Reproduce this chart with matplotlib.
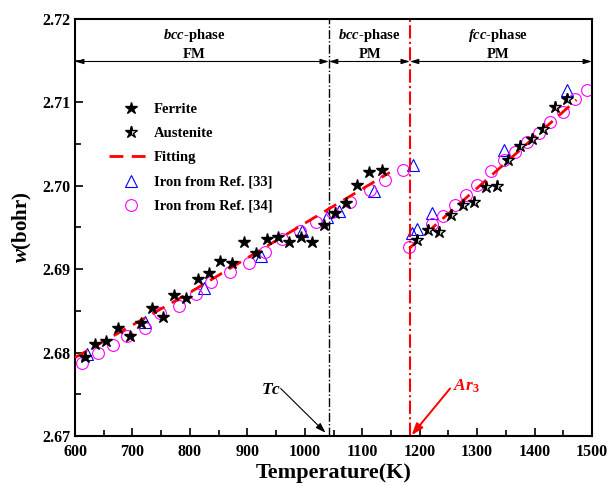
import matplotlib
matplotlib.use('Agg')
import matplotlib.pyplot as plt

plt.rcParams['font.family'] = 'Liberation Serif'
plt.rcParams['font.weight'] = 'bold'
plt.rcParams['mathtext.fontset'] = 'custom'
plt.rcParams['mathtext.rm'] = 'Liberation Serif:bold'
plt.rcParams['mathtext.it'] = 'Liberation Serif:italic:bold'

# bcc iron (ferrite)
ferrite_T = [617, 635, 654, 674, 696, 715, 734, 754, 772, 794, 814, 833, 852, 873,
             894, 915, 934, 953, 973, 993, 1013, 1034, 1053, 1072, 1091, 1111, 1134]
ferrite_w = [2.6795, 2.6810, 2.6814, 2.6830, 2.6820, 2.6835, 2.6853, 2.6843, 2.6869,
             2.6866, 2.6888, 2.6896, 2.6910, 2.6908, 2.6932, 2.6919, 2.6936, 2.6939,
             2.6932, 2.6939, 2.6933, 2.6953, 2.6967, 2.6979, 2.7001, 2.7017, 2.7019]
# fcc iron (austenite)
austenite_T = [1195, 1215, 1234, 1255, 1275, 1295, 1316, 1335, 1354, 1375, 1395, 1415, 1436, 1456]
austenite_w = [2.6935, 2.6947, 2.6944, 2.6965, 2.6977, 2.6981, 2.6999, 2.7000, 2.7031,
               2.7048, 2.7056, 2.7068, 2.7095, 2.7104]
# literature values
ref33_T = [621, 722, 824, 923, 996, 1038, 1060, 1120, 1189, 1186, 1196, 1221, 1347, 1456]
ref33_w = [2.6798, 2.6837, 2.6877, 2.6916, 2.6946, 2.6963, 2.6970, 2.6994, 2.7025,
           2.6943, 2.6948, 2.6967, 2.7043, 2.7115]
ref34_T = [612, 640, 666, 690, 721, 748, 781, 811, 837, 870, 902, 931, 961, 991, 1019,
           1047, 1079, 1113, 1139, 1171, 1181, 1221, 1240, 1262, 1281, 1300, 1325, 1347,
           1366, 1386, 1407, 1427, 1450, 1470, 1492]
ref34_w = [2.6787, 2.6799, 2.6809, 2.6820, 2.6830, 2.6847, 2.6856, 2.6870, 2.6885, 2.6897,
           2.6907, 2.6921, 2.6936, 2.6946, 2.6957, 2.6969, 2.6981, 2.6995, 2.7007, 2.7019,
           2.6926, 2.6954, 2.6964, 2.6977, 2.6989, 2.7001, 2.7018, 2.7031, 2.7040, 2.7052,
           2.7063, 2.7076, 2.7089, 2.7104, 2.7115]
# fitted curves
fit_bcc_T = [600, 800, 1000, 1148]
fit_bcc_w = [2.6794, 2.6872, 2.6955, 2.7016]
fit_fcc_T = [1182, 1473]
fit_fcc_w = [2.6925, 2.7103]

Tc = 1042
Ar3 = 1183
phases = [(600, Tc, 808, '$bcc$-phase', 'FM'),
          (Tc, Ar3, 1113, '$bcc$-phase', 'PM'),
          (Ar3, 1500, 1336, '$fcc$-phase', 'PM')]

fig = plt.figure(figsize=(6.08, 4.86), dpi=100)
ax = fig.add_axes([0.1234, 0.1029, 0.8503, 0.8581])

ax.plot(ferrite_T, ferrite_w, ls='none', marker='*', ms=9, color='black', label='Ferrite', zorder=4)
ax.plot(austenite_T, austenite_w, ls='none', marker='*', ms=9, fillstyle='left',
        mfc='black', mfcalt='white', mec='black', mew=1.0, label='Austenite', zorder=4)
ax.plot(fit_bcc_T, fit_bcc_w, ls=(0, (5, 3)), color='red', lw=2, label='Fitting', zorder=3)
ax.plot(fit_fcc_T, fit_fcc_w, ls=(0, (5, 3)), color='red', lw=2, zorder=3)
ax.plot(ref33_T, ref33_w, ls='none', marker='^', ms=8.5, mfc='none', mec='blue', mew=0.8,
        label='Iron from Ref. [33]', zorder=2)
ax.plot(ref34_T, ref34_w, ls='none', marker='o', ms=8.5, mfc='none', mec='magenta', mew=0.8,
        label='Iron from Ref. [34]', zorder=2)

ax.axvline(Tc, color='black', ls='-.', lw=1.0)
ax.axvline(Ar3, color='red', ls='-.', lw=1.5)

# phase bars across the top
y_bar = 2.7149
for t0, t1, tc, top, bottom in phases:
    ax.annotate('', xy=(t0, y_bar), xytext=(t1, y_bar),
                arrowprops=dict(arrowstyle='<|-|>,head_length=0.5,head_width=0.15',
                                color='black', lw=0.8, shrinkA=0, shrinkB=0))
    ax.text(tc, 2.7180, top, ha='center', va='center', fontsize=10.5)
    ax.text(tc, 2.7157, bottom, ha='center', va='center', fontsize=10.5)

# transition temperature markers
ax.text(942, 2.6755, '$Tc$', ha='center', va='center', fontsize=12.5)
ax.annotate('', xy=(1036, 2.6704), xytext=(958, 2.6757),
            arrowprops=dict(arrowstyle='-|>,head_length=0.6,head_width=0.2',
                            color='black', lw=0.8, shrinkA=0, shrinkB=0))
ax.text(1258, 2.6759, '$Ar_3$', ha='left', va='center', fontsize=12.5, color='red')
ax.annotate('', xy=(1186, 2.6701), xytext=(1253, 2.6757),
            arrowprops=dict(arrowstyle='-|>,head_length=0.7,head_width=0.25',
                            color='red', lw=1.4, shrinkA=0, shrinkB=0))

ax.set_xlim(600, 1500)
ax.set_ylim(2.67, 2.72)
ax.set_xticks(range(600, 1501, 100))
ax.set_xticks(range(650, 1500, 100), minor=True)
ax.set_yticks([2.67, 2.68, 2.69, 2.70, 2.71, 2.72])
ax.set_yticks([2.675, 2.685, 2.695, 2.705, 2.715], minor=True)
ax.set_yticklabels(['2.67', '2.68', '2.69', '2.70', '2.71', '2.72'])
ax.tick_params(axis='both', which='both', direction='in', labelsize=11.5, width=1.2)
ax.tick_params(axis='x', pad=6)
ax.tick_params(which='major', length=6)
ax.tick_params(which='minor', length=4)
for s in ax.spines.values():
    s.set_linewidth(1.5)

ax.set_xlabel('Temperature(K)', fontsize=16, fontweight='bold', labelpad=2)
ax.set_ylabel('$w$(bohr)', fontsize=15, fontweight='bold', labelpad=6)

ax.legend(loc='upper left', bbox_to_anchor=(0.04, 0.83), frameon=False, fontsize=10.5,
          handlelength=3.0, labelspacing=0.75, handletextpad=0.1)

fig.savefig('out.png', dpi=100)
